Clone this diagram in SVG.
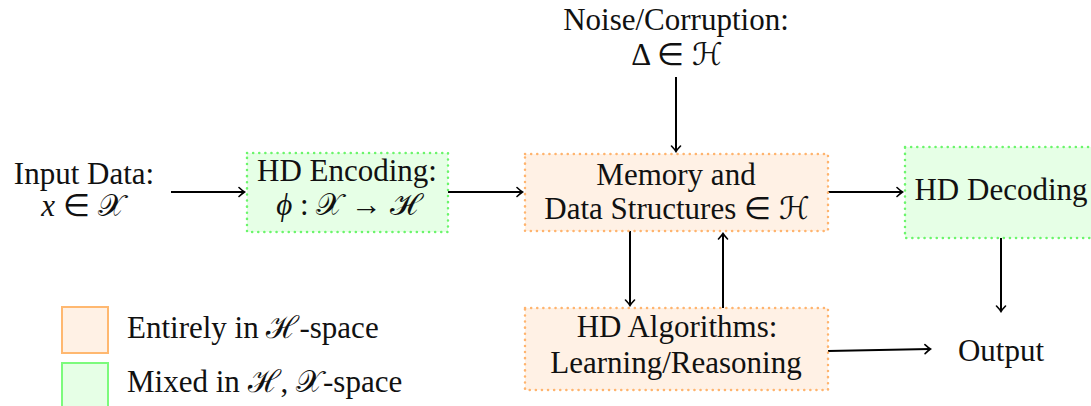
<svg xmlns="http://www.w3.org/2000/svg" width="1091" height="406" viewBox="0 0 1091 406">
<style>
.orange{fill:#FFF1E5;stroke:#FFB46E;stroke-width:2.5;stroke-dasharray:0.1 6;stroke-linecap:round}
.green{fill:#E6FFE6;stroke:#6BF56B;stroke-width:2.5;stroke-dasharray:0.1 6;stroke-linecap:round}
.edge{stroke:#000;stroke-width:2;fill:none}
</style>
<defs>
<marker id="arr" viewBox="-6 -6 8 12" markerWidth="8" markerHeight="12" refX="0" refY="0" orient="auto" markerUnits="userSpaceOnUse">
<path d="M-5,-4.5 Q-1.5,-1.2 0.5,0 Q-1.5,1.2 -5,4.5" fill="none" stroke="#000" stroke-width="1.6" stroke-linecap="round"/>
</marker>
</defs>
<g id="connectors" marker-end="url(#arr)">
<line class="edge" x1="171" y1="192" x2="244" y2="192"/>
<line class="edge" x1="448" y1="192" x2="522" y2="192"/>
<line class="edge" x1="828" y1="192" x2="902" y2="192"/>
<line class="edge" x1="676" y1="77" x2="676" y2="151"/>
<line class="edge" x1="630" y1="231" x2="630" y2="305"/>
<line class="edge" x1="723" y1="308" x2="723" y2="234"/>
<line class="edge" x1="1001" y1="238" x2="1001" y2="311"/>
<line class="edge" x1="828" y1="351" x2="930" y2="349"/>
</g>
<g font-family="Liberation Serif" font-size="31" fill="#111" text-anchor="middle">
<g id="input">
<text x="84" y="184">Input Data:</text>
<text x="83" y="216"><tspan font-style="italic">x</tspan> ∈ 𝒳</text>
</g>
<g id="noise">
<text x="676" y="30">Noise/Corruption:</text>
<text x="677" y="65">Δ ∈ ℋ</text>
</g>
<g id="encoding">
<rect class="green" x="247" y="153" width="201" height="79"/>
<text x="347" y="181">HD Encoding:</text>
<text x="347" y="215"><tspan font-style="italic">ϕ</tspan> : 𝒳 → ℋ</text>
</g>
<g id="memory">
<rect class="orange" x="525" y="154" width="303" height="77"/>
<text x="676" y="185">Memory and</text>
<text x="677" y="219">Data Structures ∈ ℋ</text>
</g>
<g id="decoding">
<rect class="green" x="905" y="147" width="190" height="91"/>
<text x="1001" y="200">HD Decoding</text>
</g>
<g id="algorithms">
<rect class="orange" x="525" y="308" width="303" height="82"/>
<text x="677" y="337">HD Algorithms:</text>
<text x="676" y="373">Learning/Reasoning</text>
</g>
<g id="output">
<text x="1001" y="361">Output</text>
</g>
<g id="legend">
<rect x="62" y="307" width="46" height="46" fill="#FFF1E5" stroke="#FFB870" stroke-width="2"/>
<rect x="62" y="363" width="46" height="46" fill="#E6FFE6" stroke="#7CFB7C" stroke-width="2"/>
<text text-anchor="start" x="127" y="338">Entirely in ℋ-space</text>
<text text-anchor="start" x="127" y="392">Mixed in ℋ, 𝒳-space</text>
</g>
</g>
</svg>
